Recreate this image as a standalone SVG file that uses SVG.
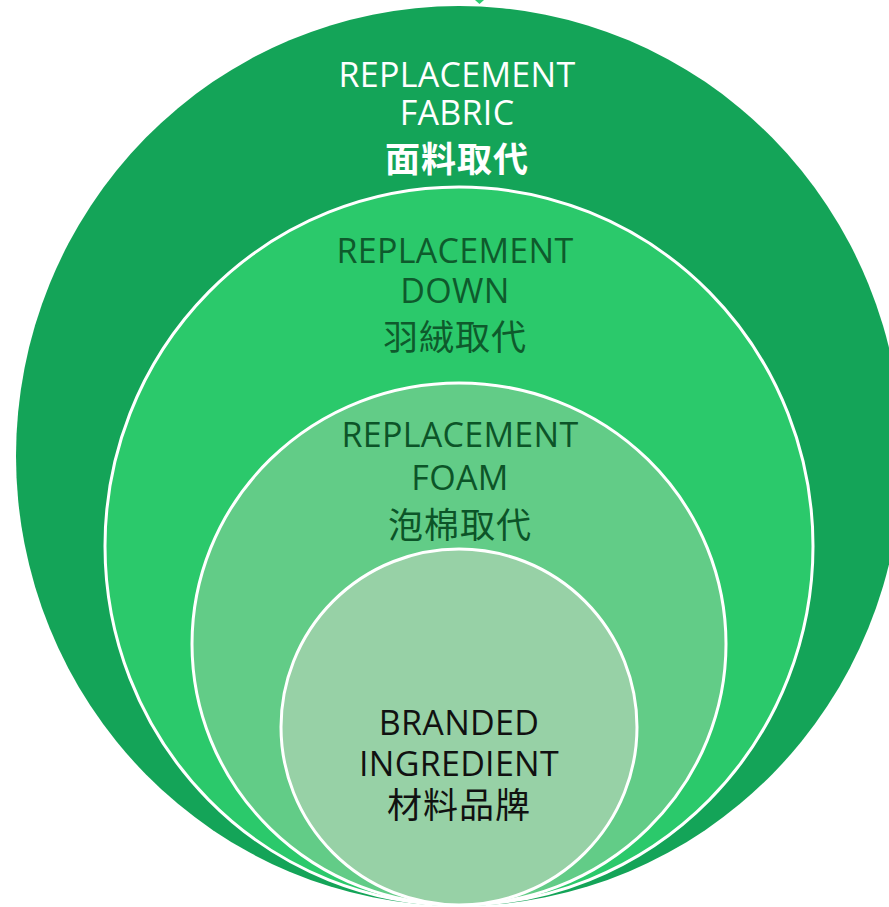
<svg xmlns="http://www.w3.org/2000/svg" width="889" height="907" viewBox="0 0 889 907">
<style>
.t{font-family:"Open Sans","Noto Sans CJK TC",sans-serif;font-size:34px;letter-spacing:0.3px;text-anchor:middle}
.c{font-family:"Noto Sans CJK TC","Open Sans",sans-serif;font-size:35px;letter-spacing:1px;text-anchor:middle}
.ring{stroke:#ffffff;stroke-width:3}
</style>
<rect width="889" height="907" fill="#ffffff"/>
<path d="M475 0 L484 0 L479.5 4 Z" fill="#2ECC71"/>
<g id="fabric">
<ellipse cx="459" cy="456" rx="443" ry="450" fill="#14A458"/>
<text class="t" x="457" y="87" fill="#ffffff">REPLACEMENT</text>
<text class="t" x="457" y="125" fill="#ffffff">FABRIC</text>
<text class="c" x="457" y="172" fill="#ffffff" font-weight="bold">面料取代</text>
</g>
<g id="down">
<ellipse class="ring" cx="459" cy="546" rx="354" ry="359" fill="#2BC96B"/>
<text class="t" x="455" y="263" fill="#0E5A2C">REPLACEMENT</text>
<text class="t" x="455" y="303" fill="#0E5A2C">DOWN</text>
<text class="c" x="455" y="350" fill="#0E5A2C">羽絨取代</text>
</g>
<g id="foam">
<ellipse class="ring" cx="459" cy="644" rx="267" ry="261" fill="#62CC87"/>
<text class="t" x="460" y="447" fill="#0C5428">REPLACEMENT</text>
<text class="t" x="460" y="490" fill="#0C5428">FOAM</text>
<text class="c" x="460" y="538" fill="#0C5428">泡棉取代</text>
</g>
<g id="branded">
<ellipse class="ring" cx="459" cy="727" rx="178" ry="178" fill="#97D1A6"/>
<text class="t" x="459" y="735" fill="#111111">BRANDED</text>
<text class="t" x="459" y="776" fill="#111111">INGREDIENT</text>
<text class="c" x="459" y="818" fill="#111111">材料品牌</text>
</g>
<g id="connectors"></g>
</svg>
